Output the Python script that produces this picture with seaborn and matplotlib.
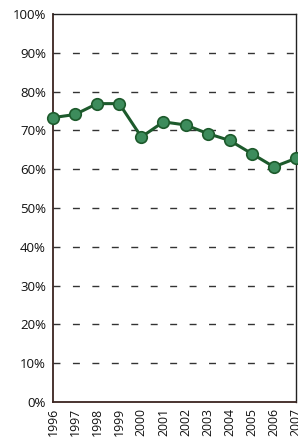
import matplotlib
matplotlib.use("Agg")
import matplotlib.pyplot as plt
import seaborn as sns
import pandas as pd

years = [1996, 1997, 1998, 1999, 2000, 2001, 2002, 2003, 2004, 2005, 2006, 2007]
values = [73.3, 74.1, 76.9, 76.9, 68.3, 72.2, 71.4, 69.2, 67.4, 64.0, 60.6, 62.8]
y_ticks = [0, 10, 20, 30, 40, 50, 60, 70, 80, 90, 100]
y_labels = [f"{v}%" for v in y_ticks]

sns.set_style("white")
plt.rcParams['font.family'] = ['Open Sans', 'DejaVu Sans']

df = pd.DataFrame({"year": years, "value": values})

fig = plt.figure(figsize=(2.98, 4.37), dpi=100)
ax = fig.add_axes([53/298, 35/437, 243/298, 388/437])

for t in y_ticks[1:-1]:
    ax.axhline(t, color="#333333", lw=1.0, dashes=(5, 9), zorder=1)

sns.lineplot(data=df, x="year", y="value", ax=ax, color="#1d5a2c", lw=2.2,
             marker="o", markersize=8.3, markerfacecolor="#3d8c5c",
             markeredgecolor="#1d5a2c", markeredgewidth=1.2, clip_on=False, zorder=3)

ax.set_xlim(1996, 2007)
ax.set_ylim(0, 100)
ax.set_yticks(y_ticks)
ax.set_yticklabels(y_labels, fontsize=9.5)
ax.set_xticks(years)
ax.set_xticklabels([str(y) for y in years], rotation=90, fontsize=8.8, va="top")
ax.set_xlabel("")
ax.set_ylabel("")
ax.tick_params(axis="y", direction="inout", length=6, width=1, color="#3a2a2a", pad=2, labelcolor="#111111")
ax.tick_params(axis="x", direction="inout", length=5, width=1, color="#3a2a2a", pad=1.5, labelcolor="#111111")
ax.grid(False)
for side in ["left", "bottom"]:
    ax.spines[side].set_color("#3a2420")
    ax.spines[side].set_linewidth(1.3)
for side in ["top", "right"]:
    ax.spines[side].set_color("#222222")
    ax.spines[side].set_linewidth(1.0)
    ax.spines[side].set_visible(True)

fig.savefig("out.png", dpi=100)
